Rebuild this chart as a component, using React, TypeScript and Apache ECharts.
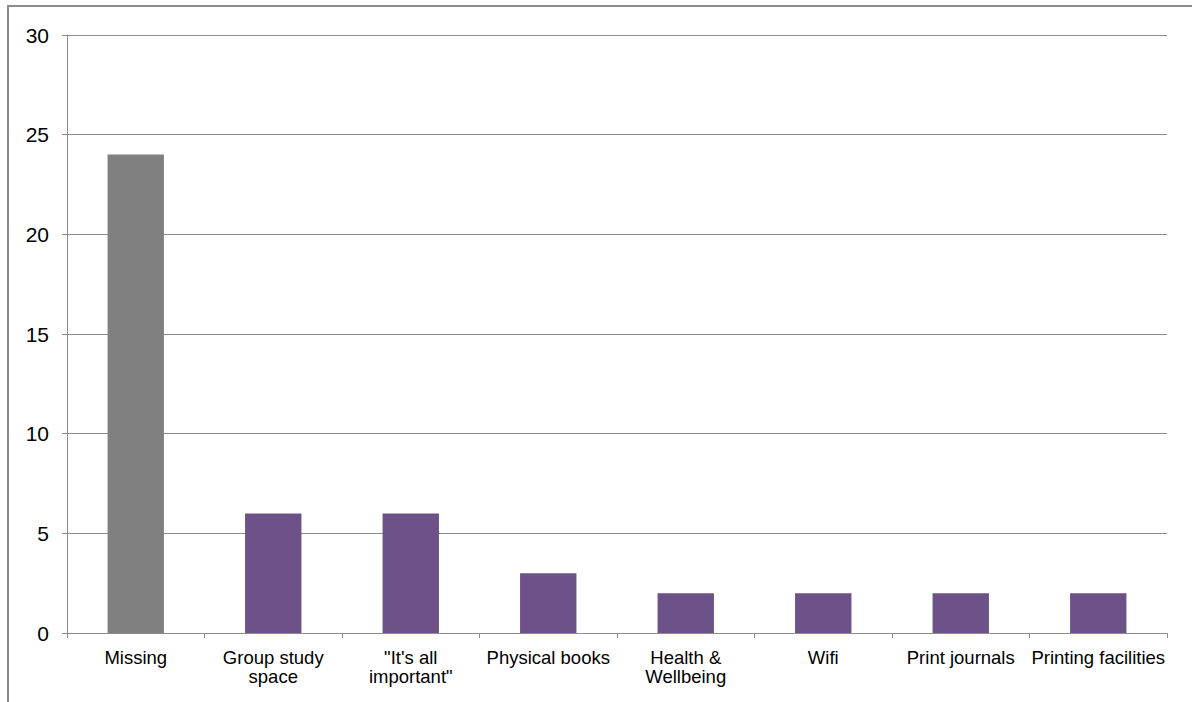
import React, { useEffect, useRef } from "react";
import * as echarts from "echarts";

const categories = [
  "Missing",
  "Group study\nspace",
  "\"It's all\nimportant\"",
  "Physical books",
  "Health &\nWellbeing",
  "Wifi",
  "Print journals",
  "Printing facilities",
];
const counts = [24, 6, 6, 3, 2, 2, 2, 2];
const barColors = ["#808080", "#6d5289", "#6d5289", "#6d5289", "#6d5289", "#6d5289", "#6d5289", "#6d5289"];

export default function App() {
  const ref = useRef<HTMLDivElement>(null);
  useEffect(() => {
    if (!ref.current) return;
    const chart = echarts.init(ref.current, undefined, { renderer: "svg" });
    chart.setOption({
      animation: false,
      backgroundColor: "#ffffff",
      textStyle: { fontFamily: "Liberation Sans, Arial, sans-serif" },
      graphic: [
        {
          type: "polyline",
          shape: { points: [[8, 702], [8, 6], [1192, 6]] },
          style: { stroke: "#8c8c8c", lineWidth: 2, fill: "none" },
          silent: true,
        },
      ],
      grid: { left: 67, right: 25, top: 35, bottom: 69 },
      xAxis: {
        type: "category",
        data: categories,
        axisLine: { lineStyle: { color: "#8c8c8c", width: 1 } },
        axisTick: { show: true, length: 5, alignWithLabel: false, lineStyle: { color: "#8c8c8c" } },
        axisLabel: {
          color: "#000000",
          fontSize: 18.5,
          lineHeight: 19,
          margin: 15,
          interval: 0,
        },
      },
      yAxis: {
        type: "value",
        min: 0,
        max: 30,
        interval: 5,
        axisLine: { show: true, lineStyle: { color: "#8c8c8c", width: 1 } },
        axisTick: { show: true, length: 5, lineStyle: { color: "#8c8c8c" } },
        axisLabel: { color: "#000000", fontSize: 21, margin: 18 },
        splitLine: { show: true, lineStyle: { color: "#8c8c8c", width: 1 } },
      },
      series: [
        {
          type: "bar",
          data: counts.map((v, i) => ({ value: v, itemStyle: { color: barColors[i] } })),
          barWidth: "41%",
        },
      ],
    });
    return () => chart.dispose();
  }, []);
  return (
    <div
      ref={ref}
      style={{ position: "absolute", left: 0, top: 0, width: 1192, height: 702 }}
    />
  );
}
